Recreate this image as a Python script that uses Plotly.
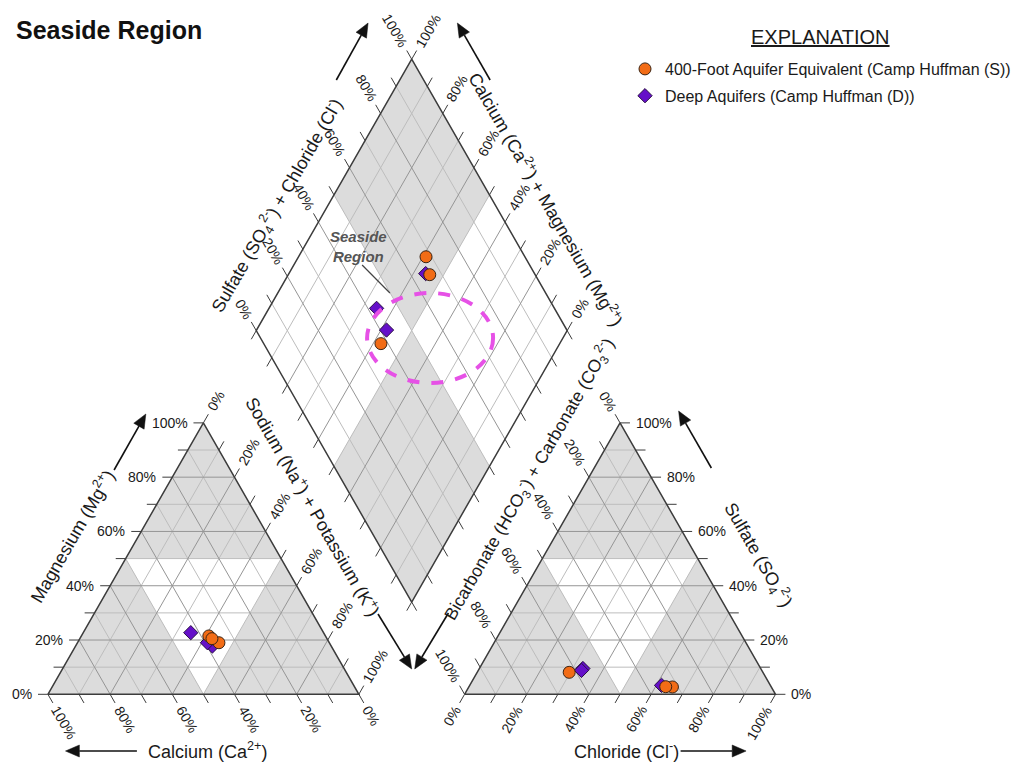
import math
import plotly.graph_objects as go

# ---------------------------------------------------------------------------
# Sample analyses, percent of total cations / anions (meq/L)
# ---------------------------------------------------------------------------
# 400-Foot Aquifer Equivalent (Camp Huffman (S))
shallow_ca = [37.5, 35.5, 37.0]
shallow_mg = [21.5, 19.0, 20.5]
shallow_nak = [41.0, 45.5, 42.5]
shallow_hco3 = [31.8, 33.9, 62.3]
shallow_so4 = [2.7, 2.8, 8.1]
shallow_cl = [65.5, 63.3, 29.6]

# Deep Aquifers (Camp Huffman (D))
deep_ca = [38.2, 42.7, 39.2]
deep_mg = [17.8, 22.7, 19.0]
deep_nak = [44.0, 34.6, 41.8]
deep_hco3 = [35.0, 57.2, 58.0]
deep_so4 = [3.3, 9.5, 8.8]
deep_cl = [61.7, 33.3, 33.2]

tick_pcts = [0, 20, 40, 60, 80, 100]
tick_labels = [f"{p}%" for p in tick_pcts]

# ---------------------------------------------------------------------------
# Piper geometry (triangle side = 1)
# ---------------------------------------------------------------------------
H = math.sqrt(3) / 2
GAP = 0.34
RX0 = 1 + GAP                   # left corner of the anion triangle
BX, BY = 1 + GAP / 2, GAP * H   # bottom vertex of the diamond

SCALE = 313.4            # pixels per unit
OX, OY = 48.3, 694.3     # page position of the cation triangle's left corner
W, HT = 1016, 763

FONT = "Liberation Sans, Arial, sans-serif"


def P(px, py):
    """page pixel -> plot units"""
    return (px - OX) / SCALE, (OY - py) / SCALE


def cation_xy(mg, nak):
    return [n / 100 + m / 200 for m, n in zip(mg, nak)], [H * m / 100 for m in mg]


def anion_xy(so4, cl):
    return [RX0 + c / 100 + s / 200 for s, c in zip(so4, cl)], [H * s / 100 for s in so4]


def diamond_xy(ca, mg, so4, cl):
    s = [(a + b) / 100 for a, b in zip(so4, cl)]
    t = [(a + b) / 100 for a, b in zip(ca, mg)]
    return ([BX + 0.5 * (a - b) for a, b in zip(s, t)],
            [BY + H * (a + b) for a, b in zip(s, t)])


def dpt(s, t):
    return BX + 0.5 * (s - t), BY + H * (s + t)


fig = go.Figure()

GRAY = "#dcdcdc"


def poly(pts, color):
    xs = [p[0] for p in pts] + [pts[0][0]]
    ys = [p[1] for p in pts] + [pts[0][1]]
    fig.add_trace(go.Scatter(x=xs, y=ys, mode="lines", fill="toself", fillcolor=color,
                             line=dict(width=0, color=color), hoverinfo="skip",
                             showlegend=False))


# zone shading: dominant-type zones grey, "no dominant type" white
poly([(0, 0), (1, 0), (0.5, H)], GRAY)
poly([(0.25, H / 2), (0.75, H / 2), (0.5, 0)], "white")
poly([(RX0, 0), (RX0 + 1, 0), (RX0 + 0.5, H)], GRAY)
poly([(RX0 + 0.25, H / 2), (RX0 + 0.75, H / 2), (RX0 + 0.5, 0)], "white")
poly([dpt(0, 0), dpt(1, 0), dpt(1, 1), dpt(0, 1)], "white")
poly([dpt(0.5, 0.5), dpt(1, 0.5), dpt(1, 1), dpt(0.5, 1)], GRAY)
poly([dpt(0, 0), dpt(0.5, 0), dpt(0.5, 0.5), dpt(0, 0.5)], GRAY)

# grid lines every 10 %, 20 % lines a little darker
minor = ([], [])
major = ([], [])


def seg(store, a, b):
    store[0].extend([a[0], b[0], None])
    store[1].extend([a[1], b[1], None])


for k in range(1, 10):
    f = k / 10
    st = major if k % 2 == 0 else minor
    for x0 in (0, RX0):
        seg(st, (x0 + f / 2, f * H), (x0 + 1 - f / 2, f * H))
        seg(st, (x0 + f, 0), (x0 + f + (1 - f) / 2, (1 - f) * H))
        seg(st, (x0 + 1 - f, 0), (x0 + (1 - f) / 2, (1 - f) * H))
    seg(st, dpt(f, 0), dpt(f, 1))
    seg(st, dpt(0, f), dpt(1, f))

fig.add_trace(go.Scatter(x=minor[0], y=minor[1], mode="lines",
                         line=dict(color="#bdbdbd", width=1), hoverinfo="skip",
                         showlegend=False))
fig.add_trace(go.Scatter(x=major[0], y=major[1], mode="lines",
                         line=dict(color="#959595", width=1), hoverinfo="skip",
                         showlegend=False))

# tick marks every 10 % along every edge
TL = 10 / SCALE
edges = [
    # (point as a function of fraction f, outward direction)
    (lambda f: (f / 2, f * H), (-1, 0)),                          # Mg
    (lambda f: (1 - f, 0), (0.5, -H)),                            # Ca
    (lambda f: (f + (1 - f) / 2, (1 - f) * H), (0.5, H)),         # Na + K
    (lambda f: (RX0 + f, 0), (-0.5, -H)),                         # Cl
    (lambda f: (RX0 + 1 - f / 2, f * H), (1, 0)),                 # SO4
    (lambda f: (RX0 + (1 - f) / 2, (1 - f) * H), (-0.5, H)),      # HCO3
    (lambda f: dpt(f, 1), (-0.5, H)),                             # SO4 + Cl
    (lambda f: dpt(1, f), (0.5, H)),                              # Ca + Mg
    (lambda f: dpt(0, f), (-0.5, -H)),                            # diamond lower left
    (lambda f: dpt(f, 0), (0.5, -H)),                             # diamond lower right
]
ticks = ([], [])
for fn, d in edges:
    for k in range(11):
        p = fn(k / 10)
        seg(ticks, p, (p[0] + d[0] * TL, p[1] + d[1] * TL))
fig.add_trace(go.Scatter(x=ticks[0], y=ticks[1], mode="lines",
                         line=dict(color="#3c3c3c", width=1), hoverinfo="skip",
                         showlegend=False))

# outlines
outl = ([], [])
for pts in ([(0, 0), (1, 0), (0.5, H), (0, 0)],
            [(RX0, 0), (RX0 + 1, 0), (RX0 + 0.5, H), (RX0, 0)],
            [dpt(0, 0), dpt(1, 0), dpt(1, 1), dpt(0, 1), dpt(0, 0)]):
    outl[0].extend([p[0] for p in pts] + [None])
    outl[1].extend([p[1] for p in pts] + [None])
fig.add_trace(go.Scatter(x=outl[0], y=outl[1], mode="lines",
                         line=dict(color="#3c3c3c", width=1.5), hoverinfo="skip",
                         showlegend=False))

# ---------------------------------------------------------------------------
# samples
# ---------------------------------------------------------------------------
ORANGE = dict(symbol="circle", size=12, color="#f26c16",
              line=dict(color="#3b2414", width=1))
PURPLE = dict(symbol="diamond", size=11, color="#6510c9",
              line=dict(color="#2a0f45", width=1))

groups = [
    ("Deep Aquifers (Camp Huffman (D))", PURPLE, 2,
     deep_ca, deep_mg, deep_nak, deep_hco3, deep_so4, deep_cl),
    ("400-Foot Aquifer Equivalent (Camp Huffman (S))", ORANGE, 1,
     shallow_ca, shallow_mg, shallow_nak, shallow_hco3, shallow_so4, shallow_cl),
]
for name, mk, rank, ca, mg, nak, hco3, so4, cl in groups:
    cx, cy = cation_xy(mg, nak)
    ax_, ay_ = anion_xy(so4, cl)
    dx, dy = diamond_xy(ca, mg, so4, cl)
    fig.add_trace(go.Scatter(x=cx, y=cy, mode="markers", marker=mk, name=name,
                             legendgroup=name, showlegend=False))
    fig.add_trace(go.Scatter(x=ax_, y=ay_, mode="markers", marker=mk, name=name,
                             legendgroup=name, showlegend=False))
    fig.add_trace(go.Scatter(x=dx, y=dy, mode="markers", marker=mk, name=name,
                             legendgroup=name, legendrank=rank, showlegend=True))

# ---------------------------------------------------------------------------
# text
# ---------------------------------------------------------------------------
ann = []


def text(x, y, s, size=14, angle=0, xanchor="center", color="#1a1a1a", **kw):
    ann.append(dict(x=x, y=y, xref="x", yref="y", text=s, showarrow=False,
                    textangle=angle, xanchor=xanchor, yanchor="middle",
                    font=dict(family=FONT, size=size, color=color, **kw)))


def label_width(s, size=14):
    return size * (0.556 * (len(s) - 1) + 0.889)


GAPL = 14 / SCALE
for pct, lab in zip(tick_pcts, tick_labels):
    f = pct / 100
    half = (10 + 5 + label_width(lab) / 2) / SCALE
    # Mg, left edge (horizontal labels)
    p = edges[0][0](f)
    text(p[0] - GAPL, p[1], lab, xanchor="right")
    # SO4, right edge of anion triangle
    p = edges[4][0](f)
    text(p[0] + GAPL, p[1], lab, xanchor="left")
    # rotated labels
    for idx, ang in ((1, 60), (2, -60), (3, -60), (5, 60), (6, 60), (7, -60)):
        fn, d = edges[idx]
        p = fn(f)
        text(p[0] + d[0] * half, p[1] + d[1] * half, lab, angle=ang)

TS = 18
text(*P(72, 536), "Magnesium (Mg<sup>2+</sup>)", TS, -60)
text(*P(209, 750), "Calcium (Ca<sup>2+</sup>)", TS)
text(*P(316, 506), "Sodium (Na<sup>+</sup>) + Potassium (K<sup>+</sup>)", TS, 60)
text(*P(533, 479), "Bicarbonate (HCO<sub>3</sub><sup>-</sup>) + Carbonate (CO<sub>3</sub><sup>2-</sup>)", 17.5, -60)
text(*P(631, 750), "Chloride (Cl<sup>-</sup>)", TS)
text(*P(765, 555), "Sulfate (SO<sub>4</sub><sup>2-</sup>)", TS, 60)
text(*P(279, 205), "Sulfate (SO<sub>4</sub><sup>2-</sup>) + Chloride (Cl<sup>-</sup>)", TS, -60)
text(*P(551, 199), "Calcium (Ca<sup>2+</sup>) + Magnesium (Mg<sup>2+</sup>)", TS, 60)

text(*P(361, 246), "<b><i>Seaside<br>Region</i></b>", 15, color="#555555")

# page title and legend heading
ann.append(dict(x=14 / W, y=1 - 30 / HT, xref="paper", yref="paper", showarrow=False,
                text="<b>Seaside Region</b>", xanchor="left", yanchor="middle",
                font=dict(family=FONT, size=25, color="#111111")))
ann.append(dict(x=827 / W, y=1 - 37 / HT, xref="paper", yref="paper", showarrow=False,
                text="<u>EXPLANATION</u>", xanchor="center", yanchor="middle",
                font=dict(family=FONT, size=20, color="#1a1a1a")))

# ---------------------------------------------------------------------------
# shapes: direction arrows, study-area outline and its leader line
# ---------------------------------------------------------------------------
shapes = []
HEAD_L, HEAD_W = 14 / SCALE, 6 / SCALE
arrows = [((115, 470), (147, 414)), ((138, 751), (66, 751)),
          ((381, 614), (415, 669)), ((452, 613), (418, 669)),
          ((686, 751), (752, 751)), ((717, 468), (684, 411)),
          ((339, 80), (371, 23)), ((494, 80), (461, 23))]
for tail, head in arrows:
    tx, ty = P(*tail)
    hx, hy = P(*head)
    length = math.hypot(hx - tx, hy - ty)
    ux, uy = (hx - tx) / length, (hy - ty) / length
    bx, by = hx - ux * HEAD_L, hy - uy * HEAD_L
    nx, ny = -uy, ux
    shapes.append(dict(type="line", xref="x", yref="y", x0=tx, y0=ty, x1=bx, y1=by,
                       line=dict(color="#111111", width=1.6)))
    shapes.append(dict(type="path", xref="x", yref="y",
                       path=(f"M{hx},{hy} L{bx + nx * HEAD_W},{by + ny * HEAD_W} "
                             f"L{bx - nx * HEAD_W},{by - ny * HEAD_W} Z"),
                       fillcolor="#111111", line=dict(color="#111111", width=0.5)))

e0 = P(370, 293)
e1 = P(497, 383)
l0 = P(365, 265)
l1 = P(393, 293)
shapes += [
    dict(type="circle", xref="x", yref="y", x0=e0[0], y0=e1[1], x1=e1[0], y1=e0[1],
         line=dict(color="#e651e6", width=4, dash="dash")),
    dict(type="line", xref="x", yref="y", x0=l0[0], y0=l0[1], x1=l1[0], y1=l1[1],
         line=dict(color="#444444", width=1.2)),
]

x_lo, y_hi = P(0, 0)
x_hi, y_lo = P(W, HT)

fig.update_layout(
    width=W, height=HT, autosize=False,
    margin=dict(l=0, r=0, t=0, b=0),
    paper_bgcolor="white", plot_bgcolor="white",
    xaxis=dict(range=[x_lo, x_hi], visible=False, fixedrange=True),
    yaxis=dict(range=[y_lo, y_hi], visible=False, fixedrange=True),
    annotations=ann, shapes=shapes,
    showlegend=True,
    legend=dict(x=630 / W, y=1 - 52 / HT, xanchor="left", yanchor="top",
                bgcolor="rgba(0,0,0,0)", font=dict(family=FONT, size=16, color="#1a1a1a"),
                tracegroupgap=3, itemsizing="trace"),
)

fig.write_html("out.html")
